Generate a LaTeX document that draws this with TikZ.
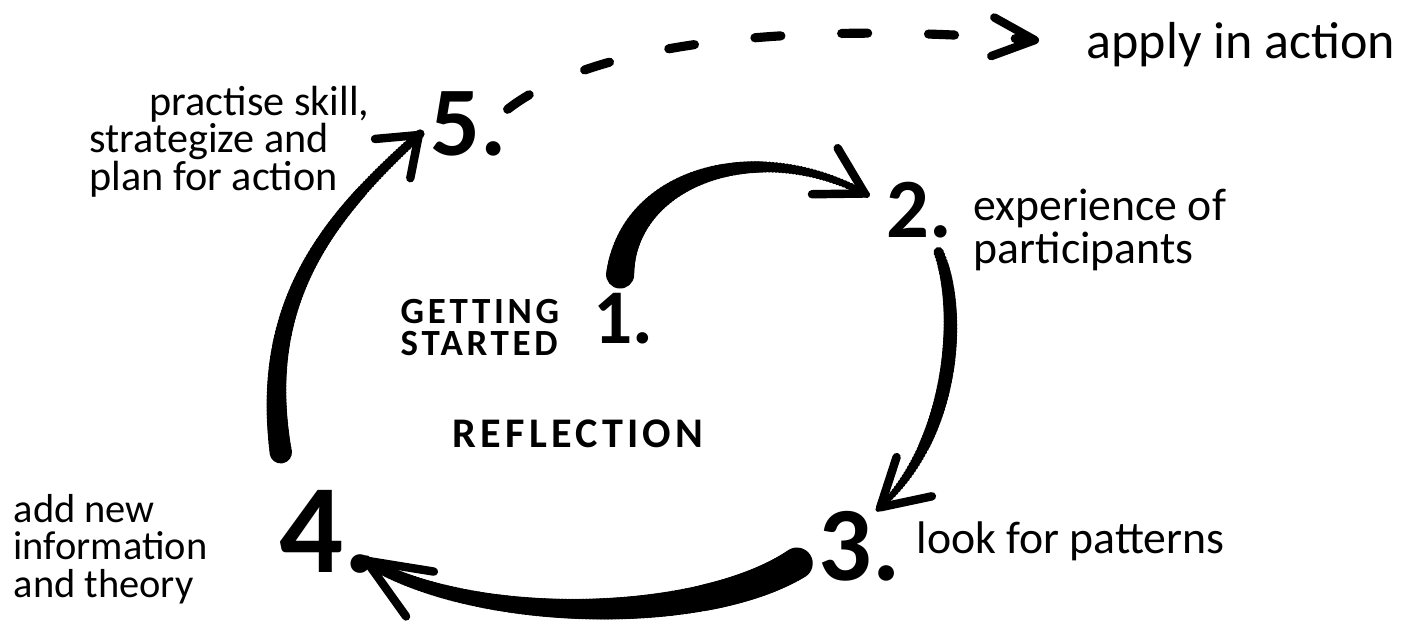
\documentclass[tikz,border=0pt]{standalone}
\usepackage{fontspec}
\setmainfont{Carlito}
\usetikzlibrary{arrows.meta,decorations.markings}
\tikzset{
  num/.style={font=\fontsize{#1}{#1}\selectfont\bfseries, inner sep=0pt, anchor=base west},
  lbl/.style 2 args={font=\fontsize{#1}{#2}\selectfont, inner sep=0pt, align=left, anchor=base west},
  caps/.style 2 args={font=\fontsize{#1}{#2}\selectfont\bfseries\addfontfeature{LetterSpace=10}, inner sep=0pt, align=left, anchor=base west},
  farr/.style={line width=0.8pt, -{Straight Barb[round, length=#1, width=15pt, line width=2.4pt]}},
  farr/.default=13pt,
  darr/.style={line width=2.6pt, line cap=round, dash pattern=on 7.4pt off 17.3pt,
    -{Straight Barb[round, length=12pt, width=11pt, line width=2.4pt]}},
  brush/.style n args={3}{postaction={decorate, decoration={markings,
    mark=between positions 0 and 1 step 1pt with {
      \pgfmathsetmacro\brushpos{\pgfkeysvalueof{/pgf/decoration/mark info/distance from start}/\pgfdecoratedpathlength}
      \pgfmathsetmacro\brushrad{#1*(1-\brushpos)^2+2*#2*\brushpos*(1-\brushpos)+#3*\brushpos^2}
      \fill (0,0) circle[radius=\brushrad pt];}}}}
}
\begin{document}
\begin{tikzpicture}[x=0.01cm, y=-0.01cm]
\useasboundingbox (0,0) rectangle (1413,624);
% step numbers
\node[num=22] (n1) at (593,343) {1.};
\node[num=24] (n2) at (886,237) {2.};
\node[num=30] (n3) at (818,580) {3.};
\node[num=36] (n4) at (279,572) {4.};
\node[num=28] (n5) at (430,155) {5.};
% labels (base = last line)
\node[caps={10.5}{9}] (start) at (400,355) {GETTING\\STARTED};
\node[caps={12}{12}] (refl) at (452,447) {REFLECTION};
\node[lbl={13}{10.4}] (t2) at (973,263) {experience of\\participants};
\node[lbl={13}{13}] (t3) at (916,553) {look for patterns};
\node[lbl={11.5}{10.6}] (t4) at (13,597) {add new\\information\\and theory};
\node[lbl={12}{10.6}] (t5) at (89,190) {\hspace*{17pt}practise skill,\\strategize and\\plan for action};
\node[lbl={14.8}{14.8}] (apply) at (1086,58) {apply in action};
% cycle
\draw[farr, brush={4}{1.5}{1}] ([xshift=-1pt,yshift=5pt]n1.north) .. controls (628,175) and (760,135) .. ([xshift=-5pt,yshift=4pt]n2.west);
\draw[farr, brush={1.5}{2.8}{0.7}] ([xshift=-4pt,yshift=-4pt]n2.south east) .. controls (962,310) and (955,440) .. ([xshift=5pt]n3.north);
\draw[farr=18pt, brush={4.5}{2.8}{1.5}] ([xshift=-6pt,yshift=-5pt]n3.west) .. controls (700,625) and (470,625) .. ([xshift=-4.5pt,yshift=4.3pt]n4.south east);
\draw[farr=10pt, brush={3.2}{1.9}{1.3}] ([xshift=0.5pt,yshift=10.5pt]n4.north west) .. controls (258,300) and (330,215) .. ([xshift=-2.3pt,yshift=-2.5pt]n5.west);
\draw[darr, shorten >=13.4pt] (n5.20) .. controls (590,45) and (780,20) .. (apply.west);
\end{tikzpicture}
\end{document}
